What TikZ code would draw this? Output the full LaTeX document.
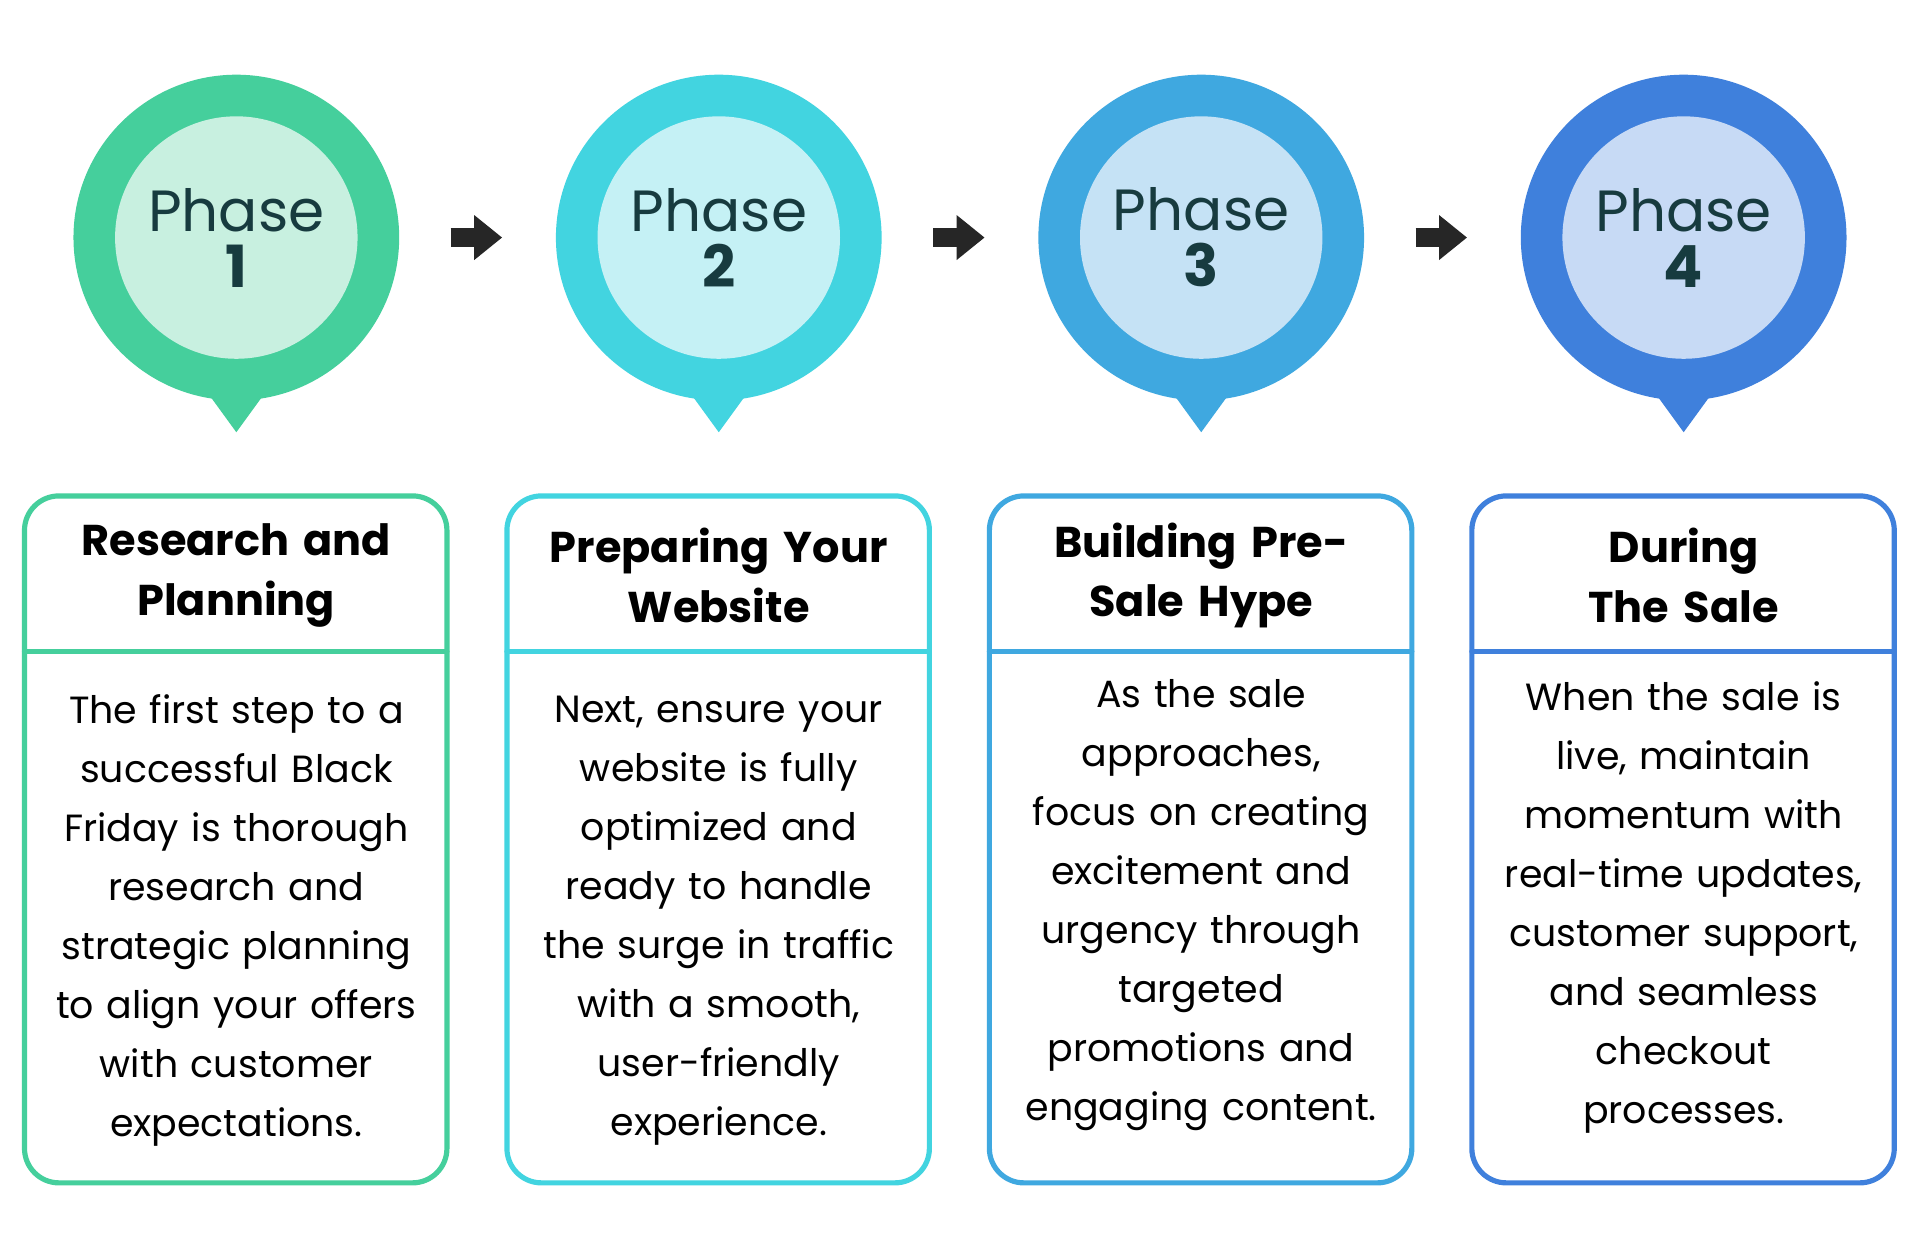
\documentclass[tikz,border=0pt]{standalone}
\usepackage{fontspec}
\setmainfont{Poppins}
\usetikzlibrary{arrows.meta}
\definecolor{ringA}{HTML}{45CF9C}\definecolor{fillA}{HTML}{C8F0E0}
\definecolor{ringB}{HTML}{42D4E0}\definecolor{fillB}{HTML}{C5F1F5}
\definecolor{ringC}{HTML}{3FA8E0}\definecolor{fillC}{HTML}{C5E2F5}
\definecolor{ringD}{HTML}{3F80DC}\definecolor{fillD}{HTML}{C7DAF5}
\definecolor{phasetext}{HTML}{173B3F}
\tikzset{
  phase/.style={font=\fontsize{13.5}{15}\selectfont, text=phasetext, align=center},
  title/.style={font=\bfseries\fontsize{10}{13.8}\selectfont, align=center, text width=3.4cm},
  body/.style={font=\fontsize{8.8}{13.7}\selectfont, align=center, text width=3.4cm},
  nextarrow/.style={-{Triangle[length=6.5pt,width=10pt]}, line width=4.3pt, line cap=butt, black!85}
}
\begin{document}
\begin{tikzpicture}[line cap=round,line join=round,x=0.01cm,y=-0.01cm]
\fill[white] (0,0) rectangle (1568,1018);
\foreach \cx/\k/\n/\ttl/\txt/\ty in {
  193/A/1/{Research and\\Planning}/{The first step to a\\successful Black\\Friday is thorough\\research and\\strategic planning\\to align your offers\\with customer\\expectations.}/752,
  587/B/2/{Preparing Your\\Website}/{Next, ensure your\\website is fully\\optimized and\\ready to handle\\the surge in traffic\\with a smooth,\\user-friendly\\experience.}/752,
  981/C/3/{Building Pre-\\Sale Hype}/{As the sale\\approaches,\\focus on creating\\excitement and\\urgency through\\targeted\\promotions and\\engaging content.}/739,
  1375/D/4/{During\\The Sale}/{When the sale is\\live, maintain\\momentum with\\real-time updates,\\customer support,\\and seamless\\checkout\\processes.}/741}{
  % badge
  \fill[ring\k] (\cx-24,320) -- (\cx,353) -- (\cx+24,320) -- cycle;
  \fill[ring\k] (\cx,194) circle (133);
  \fill[fill\k] (\cx,194) circle (99);
  \node[phase] (ph\n) at (\cx,194) {Phase\\[-2pt]\textbf{\n}};
  % card
  \draw[ring\k, line width=1.2pt, rounded corners=8pt] (\cx-173,405) rectangle (\cx+172,966);
  \draw[ring\k, line width=1.2pt] (\cx-173,532) -- (\cx+172,532);
  \node[title] (ttl\n) at (\cx,470) {\ttl};
  \node[body] (txt\n) at (\cx,\ty) {\txt};
}
\foreach \i in {1,2,3}
  \draw[nextarrow] ([xshift=1.75cm]ph\i.center) -- ([xshift=2.17cm]ph\i.center);
\end{tikzpicture}
\end{document}
